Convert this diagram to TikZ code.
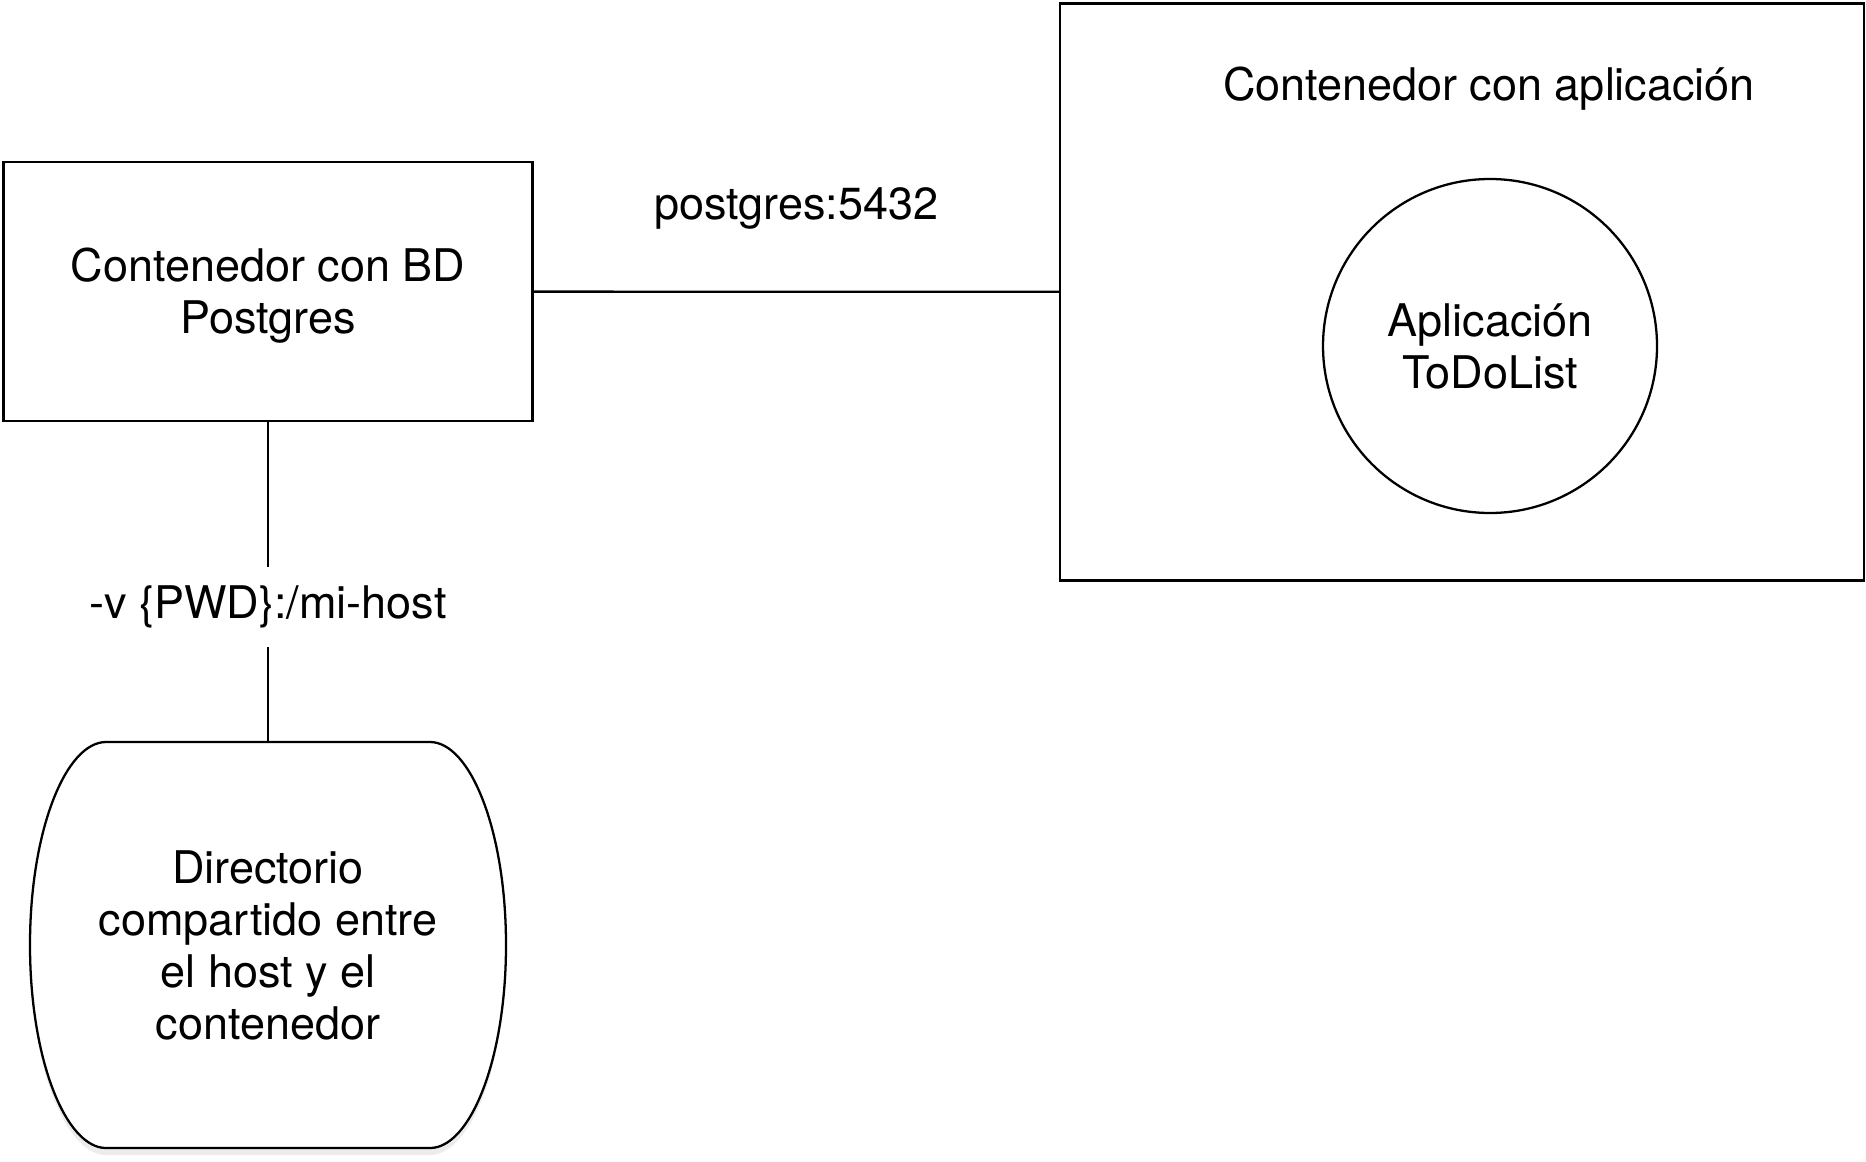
\documentclass[tikz,border=0pt]{standalone}
\usepackage{fontspec}
\setmainfont{TeX Gyre Heros}
\usetikzlibrary{shadows}

\begin{document}
\begin{tikzpicture}[line width=0.65pt, every node/.style={align=center}]
    \tikzstyle{cbox}=[draw, rectangle, inner sep=0pt]
    \tikzstyle{cnode}=[draw, circle, inner sep=0pt, minimum size=3.34cm]
    \tikzstyle{tlbl}=[inner sep=0pt]
    \tikzstyle{dshape}=[fill=white, drop shadow={opacity=0.15, shadow xshift=0pt, shadow yshift=-2pt}]
    
    \fontsize{12.8}{14.8}\selectfont
    
    \useasboundingbox (0,0) rectangle (18.66,-11.61);
    
    \node[cbox, minimum width=5.29cm, minimum height=2.59cm,
        label={[yshift=-0.04cm]center:{Contenedor con BD\\Postgres}}] (db) at (2.68,-2.915) {};
    \node[cbox, minimum width=8.04cm, minimum height=5.77cm] (app) at (14.62,-2.92) {};
    \node[tlbl] (apptitle) at (14.89,-0.885) {Contenedor con aplicación};
    \node[cnode] (todo) at (14.90,-3.46) {Aplicación\\ToDoList};
    
    \draw[dshape] (1.06,-7.42) -- (4.30,-7.42)
        .. controls (4.70,-7.42) and (5.06,-8.30) .. (5.06,-9.45)
        .. controls (5.06,-10.60) and (4.70,-11.48) .. (4.30,-11.48)
        -- (1.06,-11.48)
        .. controls (0.66,-11.48) and (0.30,-10.60) .. (0.30,-9.45)
        .. controls (0.30,-8.30) and (0.66,-7.42) .. (1.06,-7.42) -- cycle;
    \node[minimum width=4.76cm, minimum height=4.06cm] (dir) at (2.68,-9.45) {Directorio\\compartido entre\\el host y el\\contenedor};
    
    \node[inner xsep=2pt, inner ysep=0.175cm] (vol) at (2.68,-6.07) {-v \{PWD\}:/mi-host};
    
    \draw (db) -- (app) node[midway, yshift=0.83cm] {postgres:5432};
    \draw (db) -- (vol);
    \draw (vol) -- (dir);
    
\end{tikzpicture}
\end{document}
